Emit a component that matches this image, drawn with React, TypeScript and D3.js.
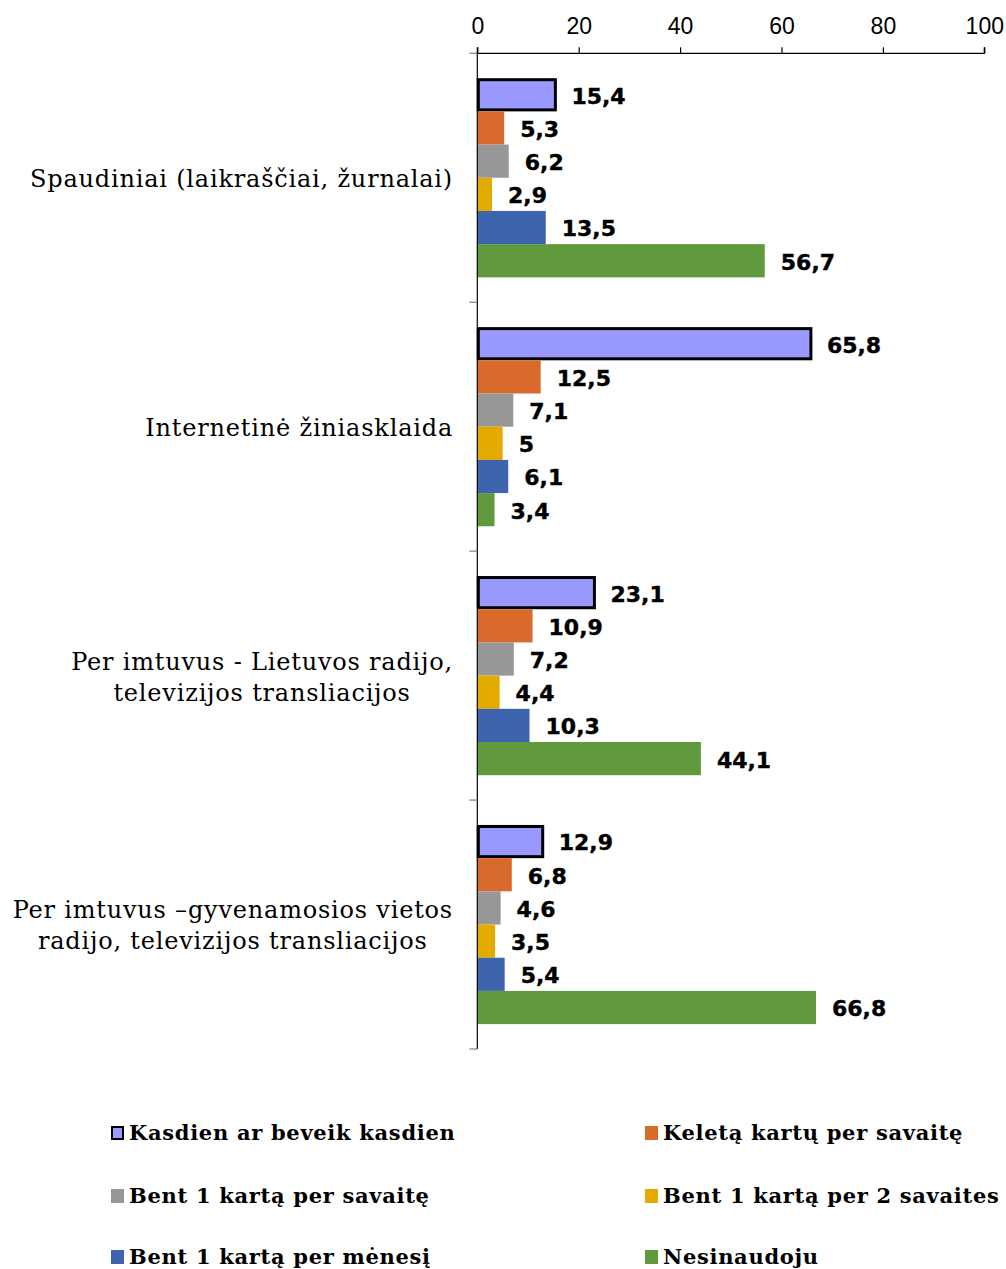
import React, { useEffect, useRef } from "react";
import * as d3 from "d3";

const categories: string[][] = [
  ["Spaudiniai (laikraščiai, žurnalai)"],
  ["Internetinė žiniasklaida"],
  ["Per imtuvus - Lietuvos radijo,", "televizijos transliacijos"],
  ["Per imtuvus –gyvenamosios vietos", "radijo, televizijos transliacijos"],
];

const seriesNames = [
  "Kasdien ar beveik kasdien",
  "Keletą kartų per savaitę",
  "Bent 1 kartą per savaitę",
  "Bent 1 kartą per 2 savaites",
  "Bent 1 kartą per mėnesį",
  "Nesinaudoju",
];

const kasdien = [15.4, 65.8, 23.1, 12.9];
const keleta = [5.3, 12.5, 10.9, 6.8];
const perSavaite = [6.2, 7.1, 7.2, 4.6];
const per2Savaites = [2.9, 5, 4.4, 3.5];
const perMenesi = [13.5, 6.1, 10.3, 5.4];
const nesinaudoju = [56.7, 3.4, 44.1, 66.8];

const seriesValues = [kasdien, keleta, perSavaite, per2Savaites, perMenesi, nesinaudoju];
const colors = ["#9999FF", "#D86B2B", "#979797", "#E3AB00", "#3D64AD", "#609A3D"];
const xTicks = [0, 20, 40, 60, 80, 100];

export default function App() {
  const ref = useRef<SVGSVGElement>(null);

  useEffect(() => {
    const svg = d3.select(ref.current);
    svg.selectAll("*").remove();

    const x = d3.scaleLinear().domain([0, 100]).range([477.3, 984.3]);
    const yTop = 53.3;
    const yBottom = 1049;
    const y = d3
      .scaleBand<number>()
      .domain(categories.map((_, i) => i))
      .range([yTop, yBottom]);
    const inner = d3
      .scaleBand<number>()
      .domain(seriesNames.map((_, i) => i))
      .range([0, y.bandwidth()])
      .paddingOuter(0.75)
      .paddingInner(0);

    // bars
    seriesValues.forEach((vals, s) => {
      vals.forEach((v, c) => {
        const yy = (y(c) as number) + (inner(s) as number);
        const h = inner.bandwidth();
        if (s === 0) {
          svg
            .append("rect")
            .attr("x", x(0) + 1)
            .attr("y", yy + 1.5)
            .attr("width", x(v) - x(0) - 1)
            .attr("height", h - 3)
            .attr("fill", colors[s])
            .attr("stroke", "#000")
            .attr("stroke-width", 3);
        } else {
          svg
            .append("rect")
            .attr("x", x(0))
            .attr("y", yy)
            .attr("width", x(v) - x(0))
            .attr("height", h)
            .attr("fill", colors[s]);
        }
        svg
          .append("text")
          .attr("x", x(v) + 16)
          .attr("y", yy + h / 2 + 1)
          .attr("dy", "0.36em")
          .attr("font-family", "'DejaVu Sans', Verdana, sans-serif")
          .attr("font-weight", "bold")
          .attr("font-size", 22)
          .attr("fill", "#000")
          .attr("stroke", "#000")
          .attr("stroke-width", 0.4)
          .text(String(v).replace(".", ","));
      });
    });

    // vertical axis line
    svg
      .append("line")
      .attr("x1", x(0))
      .attr("x2", x(0))
      .attr("y1", yTop)
      .attr("y2", yBottom)
      .attr("stroke", "#000")
      .attr("stroke-width", 1.2);
    // category ticks
    [0, 1, 2, 3, 4].forEach((i) => {
      const yy = yTop + i * y.bandwidth();
      svg
        .append("line")
        .attr("x1", x(0) - 8)
        .attr("x2", x(0))
        .attr("y1", yy)
        .attr("y2", yy)
        .attr("stroke", "#808080")
        .attr("stroke-width", 1.2);
    });

    // top axis
    const axis = d3
      .axisTop(x)
      .tickValues(xTicks)
      .tickSize(6)
      .tickPadding(13)
      .tickFormat((d) => String(d));
    const ax = svg.append("g").attr("transform", `translate(0,${yTop})`).call(axis);
    ax.select(".domain").attr("stroke", "#000").attr("stroke-width", 1.2).attr("d", `M${x(0)},-6V0H${x(100)}V-6`);
    ax.selectAll(".tick line").attr("stroke", "#000").attr("stroke-width", 1.2);
    ax.selectAll(".tick text")
      .attr("font-family", "'Liberation Sans', Arial, sans-serif")
      .attr("font-size", 23)
      .attr("fill", "#000");

    // category labels
    categories.forEach((lines, i) => {
      const cy = (y(i) as number) + y.bandwidth() / 2;
      const lh = 31;
      const g = svg.append("g");
      const texts = lines.map((ln, k) =>
        g
          .append("text")
          .attr("y", cy + (k - (lines.length - 1) / 2) * lh + 1)
          .attr("dy", "0.35em")
          .attr("font-family", "'DejaVu Serif', serif")
          .attr("font-size", 24)
          .attr("letter-spacing", 0.8)
          .attr("text-anchor", "middle")
          .attr("fill", "#000")
          .text(ln)
      );
      const maxW = d3.max(texts, (t) => (t.node() as SVGTextElement).getComputedTextLength()) || 0;
      texts.forEach((t) => t.attr("x", 453 - maxW / 2));
    });

    // legend
    const legX = [111, 645];
    const legY = [1133, 1196, 1257];
    seriesNames.forEach((name, s) => {
      const lx = legX[s % 2];
      const ly = legY[Math.floor(s / 2)];
      if (s === 0) {
        svg
          .append("rect")
          .attr("x", lx + 1)
          .attr("y", ly - 6)
          .attr("width", 11)
          .attr("height", 12)
          .attr("fill", colors[s])
          .attr("stroke", "#000")
          .attr("stroke-width", 2);
      } else {
        svg
          .append("rect")
          .attr("x", lx)
          .attr("y", ly - 7)
          .attr("width", 13)
          .attr("height", 14)
          .attr("fill", colors[s]);
      }
      svg
        .append("text")
        .attr("x", lx + 18)
        .attr("y", ly)
        .attr("dy", "0.35em")
        .attr("font-family", "'DejaVu Serif', serif")
        .attr("font-weight", "bold")
        .attr("font-size", 21)
        .attr("letter-spacing", 0.7)
        .attr("fill", "#000")
        .text(name);
    });
  }, []);

  return (
    <svg
      ref={ref}
      width={1006}
      height={1269}
      style={{ position: "absolute", left: 0, top: 0, background: "#fff" }}
    />
  );
}
